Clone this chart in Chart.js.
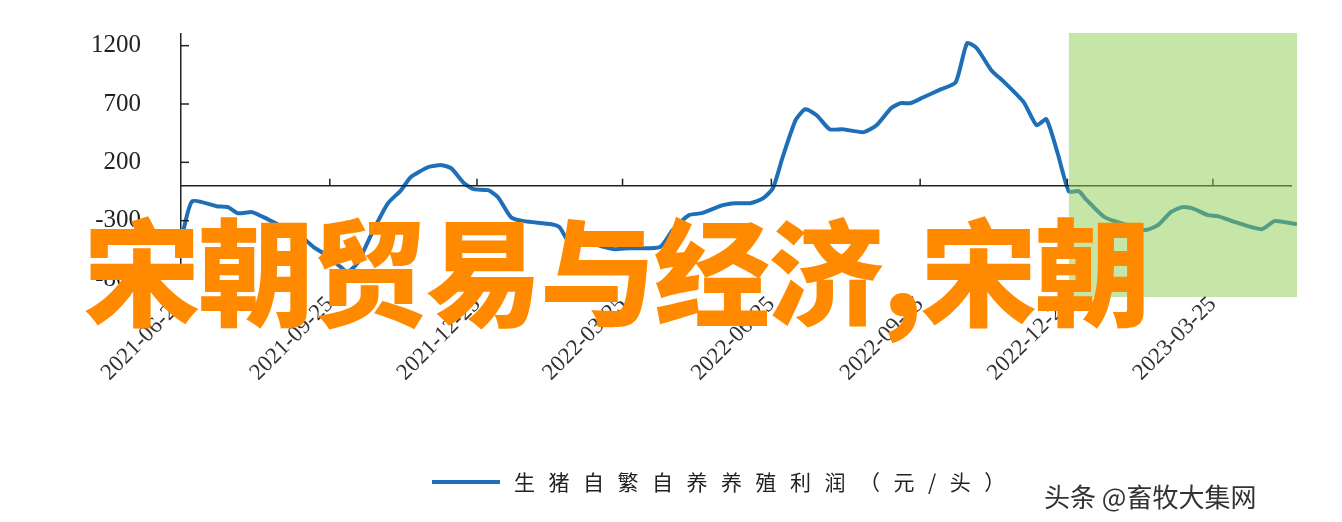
<!DOCTYPE html>
<html><head><meta charset="utf-8">
<script src="https://cdn.jsdelivr.net/npm/chart.js@4/dist/chart.umd.min.js"></script>
<style>
html,body{margin:0;padding:0;background:#fff;width:1342px;height:522px;overflow:hidden;position:relative}
#wrap{position:absolute;left:0;top:0;width:1342px;height:522px}
#over{position:absolute;left:84px;top:208px;font-family:"Noto Sans CJK SC";font-weight:900;font-size:116px;color:#ff8a00;letter-spacing:-2px;white-space:nowrap;line-height:1}
#wm{position:absolute;left:1044px;top:477px;font-family:"Noto Sans CJK SC";font-size:26px;color:#333;white-space:nowrap}
</style></head><body>
<div id="wrap"><canvas id="c" width="1342" height="522"></canvas></div>
<div id="over">宋朝贸易与经济,宋朝</div>
<div id="wm">头条 @畜牧大集网</div>
<script>
// days since 2021-06-25
const days = [1,7,22,29,35,44,51,61,72,82,88,99,103,109,119,128,136,142,153,161,167,175,181,190,196,204,212,229,234,240,248,260,268,277,296,304,314,322,335,343,352,360,366,372,380,386,393,401,409,422,430,439,445,451,459,470,479,486,492,501,509,521,529,535,542,549,555,560,571,585,596,604,612,619,625,635,641,652,668,676,683,690];
const profit = [-410,-133,-176,-184,-236,-227,-270,-339,-407,-527,-580,-700,-740,-665,-380,-150,-40,73,160,176,150,21,-30,-39,-99,-270,-304,-330,-356,-484,-476,-519,-544,-536,-527,-381,-253,-236,-167,-150,-150,-107,-21,244,561,655,604,484,484,459,518,664,707,707,758,827,887,1221,1178,990,887,716,518,569,278,-50,-47,-124,-270,-339,-381,-339,-227,-184,-193,-253,-261,-313,-373,-304,-313,-330];
const tickDays = [0,92,183,273,365,457,548,638];
const tickLabels = ["2021-06-25","2021-09-25","2021-12-25","2022-03-25","2022-06-25","2022-09-25","2022-12-25","2023-03-25"];
const yTicks = [-800,-300,200,700,1200];
const seriesName = "生猪自繁自养养殖利润（元/头）";
const shade = {from:549, to:690};

const deco = {
  id:'deco',
  afterDatasetsDraw(ch){
    const {ctx, scales:{x,y}, chartArea:a} = ch;
    ctx.save();
    const y0 = y.getPixelForValue(0);
    ctx.strokeStyle='#222'; ctx.lineWidth=1.5;
    ctx.beginPath(); ctx.moveTo(a.left,y0); ctx.lineTo(a.right-5,y0); ctx.stroke();
    tickDays.slice(1).forEach(d=>{const px=x.getPixelForValue(d);ctx.beginPath();ctx.moveTo(px,y0);ctx.lineTo(px,y0-7);ctx.stroke();});
    yTicks.forEach(v=>{const py=y.getPixelForValue(v);ctx.beginPath();ctx.moveTo(a.left,py);ctx.lineTo(a.left+8,py);ctx.stroke();});
    ctx.fillStyle='rgba(140,205,80,0.5)';
    const x1=x.getPixelForValue(shade.from), x2=x.getPixelForValue(shade.to);
    ctx.fillRect(x1, a.top-1, x2-x1, 264);
    ctx.strokeStyle='#1f6fb8'; ctx.lineWidth=4;
    ctx.beginPath(); ctx.moveTo(432,482); ctx.lineTo(500,482); ctx.stroke();
    ctx.fillStyle='#222'; ctx.font='21px "Noto Sans CJK SC"'; ctx.textBaseline='middle';
    ctx.letterSpacing='13.5px';
    ctx.fillText(seriesName, 514, 482);
    ctx.restore();
  }
};

new Chart(document.getElementById('c'),{
  type:'line',
  data:{datasets:[{label:seriesName,data:days.map((d,i)=>({x:d,y:profit[i]})),borderColor:'#1f6fb8',borderWidth:4,pointRadius:0,tension:0.2,fill:false}]},
  options:{
    responsive:false,animation:false,
    layout:{padding:{left:10,top:34,right:45,bottom:0}},
    plugins:{legend:{display:false},tooltip:{enabled:false}},
    scales:{
      x:{type:'linear',min:0,max:690,
        afterBuildTicks(s){s.ticks=tickDays.map(v=>({value:v}));},
        afterFit(s){s.height=243;},
        grid:{display:false},border:{display:false},
        ticks:{autoSkip:false,maxRotation:45,minRotation:45,padding:4,color:'#333',
          font:{family:'Liberation Serif',size:23},
          callback:(v)=>tickLabels[tickDays.indexOf(v)]}},
      y:{min:-800,max:1300,
        afterBuildTicks(s){s.ticks=yTicks.map(v=>({value:v}));},
        afterFit(s){s.width=171;s.paddingTop=0;s.paddingBottom=0;},
        grid:{display:false},border:{display:true,color:'#222',width:1.5},
        ticks:{color:'#222',padding:32,font:{family:'Liberation Serif',size:25},callback:v=>String(v)}}
    }
  },
  plugins:[deco]
});
</script></body></html>
